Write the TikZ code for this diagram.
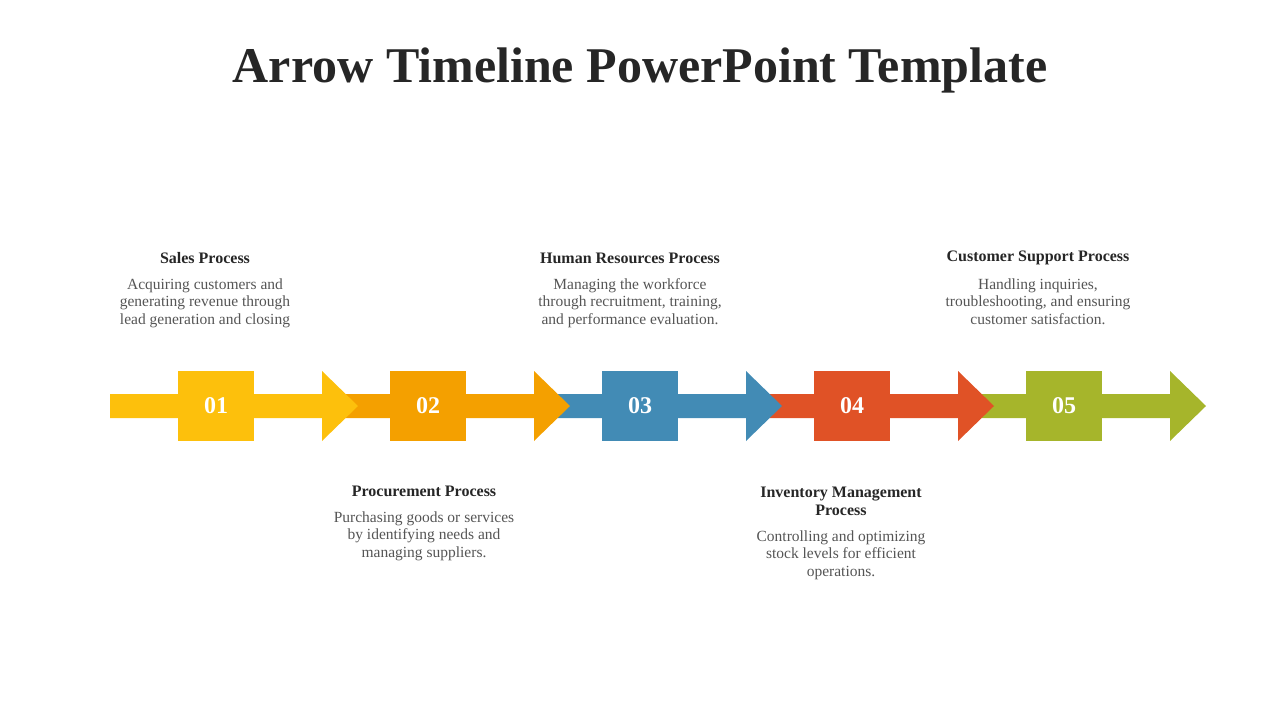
\documentclass[tikz,border=0pt]{standalone}
\usepackage{fontspec}
\setmainfont{Liberation Serif}
\definecolor{cyel}{HTML}{FDC00C}
\definecolor{corg}{HTML}{F4A000}
\definecolor{cblu}{HTML}{428BB5}
\definecolor{cred}{HTML}{E05226}
\definecolor{cgrn}{HTML}{A6B52B}
\definecolor{ctitle}{HTML}{262626}
\definecolor{cbody}{HTML}{555555}
\tikzset{
  head/.style={font=\fontsize{16}{18}\selectfont\bfseries, text=ctitle},
  body/.style={font=\fontsize{15.5}{17.5}\selectfont, text=cbody, align=center},
  numbox/.style={minimum width=76pt, minimum height=70pt, inner sep=0pt,
    text=white, font=\fontsize{24}{26}\selectfont\bfseries}
}
\begin{document}
\begin{tikzpicture}[x=1pt,y=-1pt]
  \useasboundingbox (0,0) rectangle (1280,720);
  \node[font=\fontsize{50}{56}\selectfont\bfseries, text=ctitle] (title) at (640,70) {Arrow Timeline PowerPoint Template};
  % arrows, drawn back to front
  \foreach \i/\c/\s in {5/cgrn/972, 4/cred/760, 3/cblu/548, 2/corg/336, 1/cyel/110}{
    \pgfmathsetmacro{\hb}{322+212*(\i-1)}
    \fill[\c] (\s,394) -- (\hb,394) -- (\hb,371) -- (\hb+36,406) -- (\hb,441) -- (\hb,418) -- (\s,418) -- cycle;
  }
  \node[numbox, fill=cyel] (n1) at (216,406) {01};
  \node[numbox, fill=corg] (n2) at (428,406) {02};
  \node[numbox, fill=cblu] (n3) at (640,406) {03};
  \node[numbox, fill=cred] (n4) at (852,406) {04};
  \node[numbox, fill=cgrn] (n5) at (1064,406) {05};
  % labels above
  \node[head] (h1) at (205,258) {Sales Process};
  \node[body, anchor=north] (b1) at (205,275) {Acquiring customers and\\generating revenue through\\lead generation and closing};
  \node[head] (h3) at (630,258) {Human Resources Process};
  \node[body, anchor=north] (b3) at (630,275) {Managing the workforce\\through recruitment, training,\\and performance evaluation.};
  \node[head] (h5) at (1038,258) {Customer Support Process};
  \node[body, anchor=north] (b5) at (1038,275) {Handling inquiries,\\troubleshooting, and ensuring\\customer satisfaction.};
  % labels below
  \node[head] (h2) at (424,491) {Procurement Process};
  \node[body, anchor=north] (b2) at (424,508) {Purchasing goods or services\\by identifying needs and\\managing suppliers.};
  \node[head, align=center] (h4) at (841,501) {Inventory Management\\Process};
  \node[body, anchor=north] (b4) at (841,527) {Controlling and optimizing\\stock levels for efficient\\operations.};
\end{tikzpicture}
\end{document}
